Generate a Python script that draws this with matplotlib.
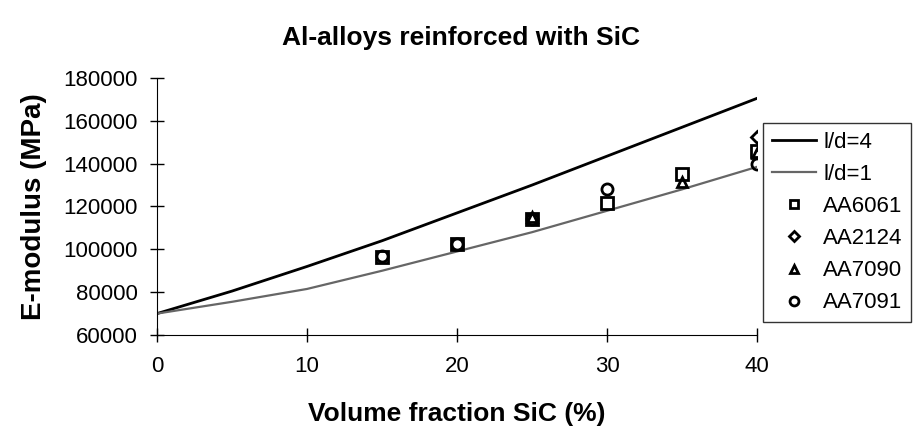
import matplotlib
matplotlib.use('Agg')
import matplotlib.pyplot as plt

plt.rcParams['font.family'] = ['Liberation Sans', 'DejaVu Sans']

# model curves
vf_line = [0, 5, 10, 15, 20, 25, 30, 35, 40]
e_ld4 = [70000, 80500, 92000, 104000, 117000, 130000, 143500, 157000, 170500]
e_ld1 = [70000, 75500, 81500, 90000, 99000, 108000, 118000, 128000, 138500]

# measured data
vf_6061 = [15, 20, 25, 30, 35, 40]
e_6061 = [96500, 102500, 114200, 121500, 135000, 146000]
vf_2124 = [40]
e_2124 = [152500]
vf_7090 = [25, 35, 40]
e_7090 = [115000, 131500, 145000]
vf_7091 = [15, 20, 25, 30, 40]
e_7091 = [97000, 102500, 114000, 128000, 140000]

fig = plt.figure(figsize=(9.21, 4.38), dpi=100)
ax = fig.add_axes([157/921, 1-335/438, 600/921, 257/438])

ax.plot(vf_line, e_ld4, color='black', lw=2.0, label='l/d=4')
ax.plot(vf_line, e_ld1, color='#666666', lw=1.6, label='l/d=1')
mk = dict(linestyle='none', mfc='none', mec='black', mew=2.0)
ax.plot(vf_6061, e_6061, marker='s', ms=8, label='AA6061', **mk)
ax.plot(vf_2124, e_2124, marker='D', ms=6.5, label='AA2124', **mk)
ax.plot(vf_7090, e_7090, marker='^', ms=7.5, label='AA7090', **mk)
ax.plot(vf_7091, e_7091, marker='o', ms=8, label='AA7091', **mk)

ax.set_xlim(0, 40)
ax.set_ylim(60000, 180000)
ax.set_xticks([0, 10, 20, 30, 40])
ax.set_yticks(range(60000, 180001, 20000))
ax.spines['top'].set_visible(False)
ax.spines['right'].set_visible(False)
ax.tick_params(direction='inout', length=10, width=1, labelsize=16)
ax.tick_params(axis='x', pad=10)
ax.tick_params(axis='y', pad=9)
ax.set_xlabel('Volume fraction SiC (%)', fontsize=19, fontweight='bold', labelpad=18)
ax.set_ylabel('E-modulus (MPa)', fontsize=20, fontweight='bold', labelpad=12)
fig.suptitle('Al-alloys reinforced with SiC', fontsize=19, fontweight='bold', x=0.5, y=0.94)

leg = fig.legend(loc='upper left', bbox_to_anchor=(763/921, 1-123/438), fontsize=16,
                 frameon=True, fancybox=False, edgecolor='black', handlelength=2.0,
                 handletextpad=0.3, borderpad=0.4, labelspacing=0.5, markerscale=0.8,
                 borderaxespad=0)
leg.get_frame().set_linewidth(1.0)

fig.savefig('out.png', dpi=100)
